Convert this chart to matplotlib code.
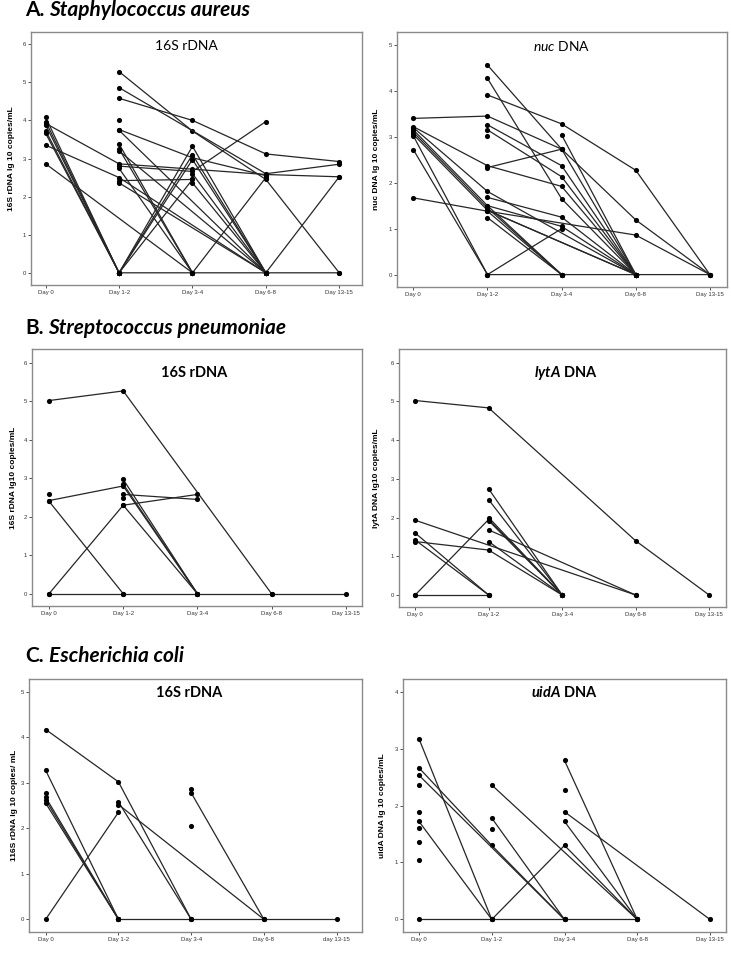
import numpy as np
import matplotlib
matplotlib.use("Agg")
import matplotlib.pyplot as plt

plt.rcParams["font.family"] = ["Liberation Sans", "DejaVu Sans"]
plt.rcParams["mathtext.fontset"] = "custom"
plt.rcParams["mathtext.it"] = "Lato:italic"
plt.rcParams["mathtext.bf"] = "Lato:bold"
plt.rcParams["mathtext.bfit"] = "Lato:italic:bold"
plt.rcParams["mathtext.rm"] = "Lato"

nan = np.nan
days = ["Day 0", "Day 1-2", "Day 3-4", "Day 6-8", "Day 13-15"]
days_c = ["Day 0", "Day 1-2", "Day 3-4", "Day 6-8", "day 13-15"]

# Each row: one patient, values at [Day 0, Day 1-2, Day 3-4, Day 6-8, Day 13-15]
sa_16s = [
    [4.08, 0, nan, nan, nan],
    [3.97, 0, nan, nan, nan],
    [3.73, 0, nan, nan, nan],
    [3.66, 0, nan, nan, nan],
    [3.92, 2.86, 2.72, 2.58, 2.52],
    [3.35, 2.50, nan, 0, nan],
    [2.86, nan, 0, nan, nan],
    [3.88, 0, 0, 0, 0],
    [nan, 5.28, 3.72, 2.45, 0],
    [nan, 4.86, nan, 2.60, 2.85],
    [nan, 4.58, 4.00, 3.12, 2.92],
    [nan, 4.02, nan, nan, nan],
    [nan, 3.76, 3.02, 2.55, nan],
    [nan, 3.74, nan, 0, nan],
    [nan, 3.38, 0, nan, nan],
    [nan, 3.25, 0, nan, nan],
    [nan, 3.20, nan, 0, nan],
    [nan, 2.80, 2.66, 3.97, nan],
    [nan, 2.74, 0, nan, nan],
    [nan, 2.42, 2.45, nan, nan],
    [nan, 2.36, nan, 0, nan],
    [nan, 0, 3.32, 0, nan],
    [nan, 0, 3.10, 0, nan],
    [nan, 0, 2.97, 0, nan],
    [nan, 0, 2.45, nan, nan],
    [nan, nan, 0, 2.50, nan],
    [nan, nan, nan, 0, 2.52],
    [nan, nan, 2.60, 0, nan],
    [nan, nan, 2.36, 0, nan],
]

sa_nuc = [
    [3.40, 3.45, 2.73, 1.19, 0],
    [3.22, 2.37, 1.92, 0, nan],
    [3.20, 1.81, nan, 0, nan],
    [3.10, 1.45, 0, nan, nan],
    [3.05, 1.40, nan, 0, nan],
    [3.02, 0, 0, 0, 0],
    [2.72, 0, nan, nan, nan],
    [1.67, 1.38, nan, 0.86, 0],
    [3.15, 1.50, 0, nan, nan],
    [nan, 4.56, 2.73, 0, nan],
    [nan, 4.27, 1.65, 0, nan],
    [nan, 3.91, 3.28, 2.27, 0],
    [nan, 3.26, 2.37, 0, nan],
    [nan, 3.15, 2.13, 0, nan],
    [nan, 3.01, nan, nan, nan],
    [nan, 2.33, 2.73, nan, nan],
    [nan, 1.68, 1.25, 0, nan],
    [nan, 1.50, 1.05, 0, nan],
    [nan, 1.40, nan, 0, nan],
    [nan, 1.24, 0, nan, nan],
    [nan, 1.38, 0, nan, nan],
    [nan, 0, 1.00, nan, nan],
    [nan, nan, 3.04, 0, nan],
]

sp_16s = [
    [5.02, 5.27, nan, 0, nan],
    [2.42, 2.80, 0, nan, nan],
    [2.40, 0, nan, nan, nan],
    [2.60, nan, nan, nan, nan],
    [0, 2.30, 2.58, nan, nan],
    [nan, 2.30, 0, nan, nan],
    [nan, 2.97, 0, nan, nan],
    [nan, 2.85, 0, nan, nan],
    [nan, 2.58, 2.45, nan, nan],
    [nan, 2.50, nan, nan, nan],
    [0, 0, 0, 0, 0],
]

sp_lyta = [
    [5.02, 4.83, nan, 1.40, 0],
    [1.93, nan, nan, 0, nan],
    [1.60, 0, nan, nan, nan],
    [1.42, 0, nan, nan, nan],
    [1.38, 1.16, 0, nan, nan],
    [0, 1.95, 0, nan, nan],
    [nan, 2.74, 0, nan, nan],
    [nan, 2.46, 0, nan, nan],
    [nan, 2.00, 0, nan, nan],
    [nan, 1.92, 0, nan, nan],
    [nan, 1.68, nan, 0, nan],
    [nan, 1.38, 0, nan, nan],
    [0, 0, nan, nan, nan],
]

ec_16s = [
    [4.17, 3.02, 0, nan, nan],
    [3.27, 0, nan, nan, nan],
    [2.77, nan, nan, nan, nan],
    [2.68, 0, nan, nan, nan],
    [2.62, 0, nan, nan, nan],
    [2.55, 0, nan, nan, nan],
    [0, 2.35, nan, nan, nan],
    [nan, 2.58, 0, nan, nan],
    [nan, 2.52, nan, 0, nan],
    [nan, nan, 2.78, 0, nan],
    [nan, nan, 2.86, nan, nan],
    [nan, nan, 2.05, nan, nan],
    [nan, 0, 0, 0, 0],
]

ec_uida = [
    [3.17, 0, nan, nan, nan],
    [2.66, 1.30, 0, nan, nan],
    [2.53, nan, 0, nan, nan],
    [2.36, nan, nan, nan, nan],
    [1.89, nan, nan, nan, nan],
    [1.60, nan, nan, nan, nan],
    [1.36, nan, nan, nan, nan],
    [1.04, nan, nan, nan, nan],
    [1.72, 0, nan, nan, nan],
    [nan, 2.36, nan, 0, nan],
    [nan, 1.78, 0, nan, nan],
    [nan, 1.58, nan, nan, nan],
    [nan, 0, 1.30, 0, nan],
    [nan, nan, 2.79, 0, nan],
    [nan, nan, 2.27, nan, nan],
    [nan, nan, 1.89, nan, 0],
    [nan, nan, 1.72, 0, nan],
    [0, 0, 0, 0, nan],
]

section_letters = ["A.", "B.", "C."]
section_species = ["Staphylococcus aureus", "Streptococcus pneumoniae", "Escherichia coli"]

W, H = 731, 958
fig = plt.figure(figsize=(W / 100, H / 100), dpi=100)


def add_axes(left, right, top, bottom):
    return fig.add_axes([left / W, 1 - bottom / H, (right - left) / W, (bottom - top) / H])


panels = [
    dict(data=sa_16s, box=(31, 362, 32, 285), ylim=(-0.32, 6.32), yt=range(0, 7),
         ylabel="16S rDNA lg 10 copies/mL", title="16S rDNA", tx=0.47, ty=0.945,
         bold=False, labx=15, xl=days, xlim=(-0.2, 4.31)),
    dict(data=sa_nuc, box=(397, 727, 32, 287), ylim=(-0.27, 5.28), yt=range(0, 6),
         ylabel="nuc DNA lg 10 copies/mL", title=r"$\mathit{nuc}$ DNA", tx=0.5, ty=0.946,
         bold=False, labx=380, xl=days, xlim=(-0.22, 4.23)),
    dict(data=sp_16s, box=(32, 362, 349, 606), ylim=(-0.32, 6.36), yt=range(0, 7),
         ylabel="16S rDNA lg10 copies/mL", title="16S rDNA", tx=0.49, ty=0.908,
         bold=True, labx=17, xl=days, xlim=(-0.23, 4.22)),
    dict(data=sp_lyta, box=(399, 726, 349, 607), ylim=(-0.31, 6.35), yt=range(0, 7),
         ylabel="lytA DNA lg10 copies/mL", title=r"$\mathbfit{lytA}$ DNA", tx=0.51, ty=0.907,
         bold=True, labx=380, xl=days, xlim=(-0.22, 4.23)),
    dict(data=ec_16s, box=(29, 362, 679, 932), ylim=(-0.28, 5.28), yt=range(0, 6),
         ylabel="116S rDNA lg 10 copies/ mL", title="16S rDNA", tx=0.48, ty=0.945,
         bold=True, labx=18, xl=days_c, xlim=(-0.23, 4.35)),
    dict(data=ec_uida, box=(403, 726, 679, 932), ylim=(-0.22, 4.22), yt=range(0, 5),
         ylabel="uidA DNA lg 10 copies/mL", title=r"$\mathbfit{uidA}$ DNA", tx=0.5, ty=0.946,
         bold=True, labx=386, xl=days, xlim=(-0.22, 4.22)),
]

x = np.arange(len(days))
for p in panels:
    l, r, t, b = p["box"]
    ax = add_axes(l, r, t, b)
    for series in p["data"]:
        y = np.array(series, dtype=float)
        m = ~np.isnan(y)
        ax.plot(x[m], y[m], "-o", color="#262626", lw=0.9, ms=3.7,
                mfc="black", mec="black", mew=0)
    ax.set_xlim(*p["xlim"])
    ax.set_ylim(*p["ylim"])
    ax.set_xticks(x)
    ax.set_xticklabels(p["xl"])
    ax.set_yticks(list(p["yt"]))
    ax.tick_params(length=2, width=0.6, labelsize=4.3, pad=1.5, colors="#333333")
    for s in ax.spines.values():
        s.set_color("#8a8a8a")
        s.set_linewidth(1.0)
    ax.set_ylabel(p["ylabel"], fontsize=6, fontweight="bold")
    ax.yaxis.set_label_coords((p["labx"] - l) / (r - l), 0.5)
    if p["bold"]:
        ax.text(p["tx"], p["ty"], p["title"], transform=ax.transAxes, ha="center",
                va="center", fontsize=10.5, fontweight="bold", family="Lato")
    else:
        ax.text(p["tx"], p["ty"], p["title"], transform=ax.transAxes, ha="center",
                va="center", fontsize=10, family="Lato")

renderer = fig.canvas.get_renderer()
baselines = [16, 334, 662]
for letter, name, ypx in zip(section_letters, section_species, baselines):
    t1 = fig.text(25 / W, 1 - ypx / H, letter, fontsize=15, fontweight="bold",
                  family="Lato", va="baseline", ha="left")
    bb = t1.get_window_extent(renderer)
    fig.text((bb.x1 + 5) / W, 1 - ypx / H, name, fontsize=15, fontweight="bold",
             fontstyle="italic", family="Lato", va="baseline", ha="left")

fig.savefig("out.png", dpi=100)
